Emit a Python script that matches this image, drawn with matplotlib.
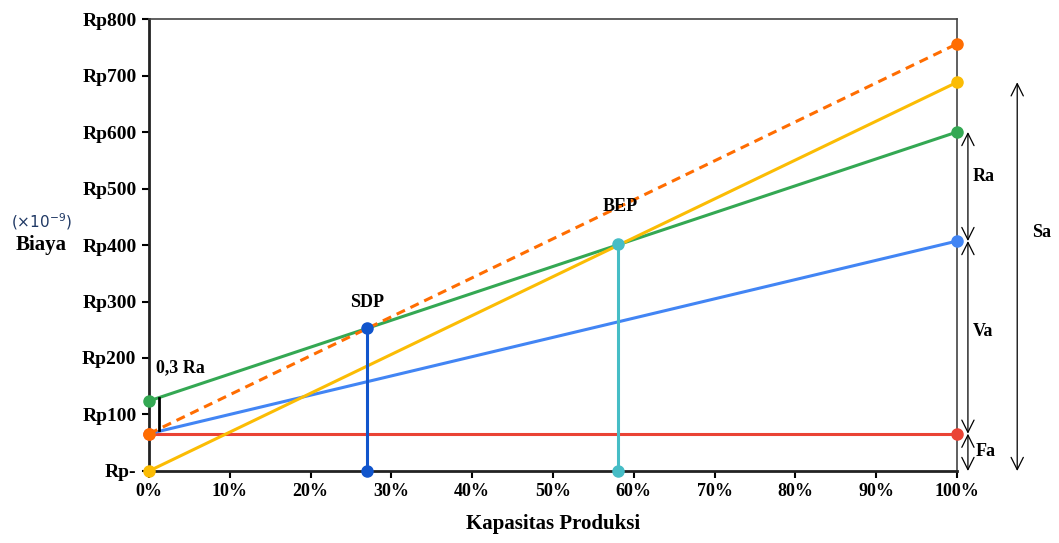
import matplotlib.pyplot as plt
import numpy as np

# data (biaya in Rp, x in fraction of capacity)
kapasitas = np.array([0.0, 1.0])
biaya_tetap = np.array([66, 66])          # Fa
biaya_variabel = np.array([66, 407])      # Fa + Va
biaya_total = np.array([124, 600])        # Fa + 0.3Ra + ...
penjualan = np.array([0, 688])            # Sa
biaya_putus = np.array([66, 756])         # dashed
sdp = (0.27, 253)
bep = (0.58, 401)
ra03_x = 0.012
yticks = np.arange(0, 801, 100)
ylabels = ["Rp-"] + ["Rp%d" % v for v in yticks[1:]]
xticks = np.arange(0, 1.01, 0.1)
xlabels = ["%d%%" % round(v * 100) for v in xticks]

plt.rcParams['font.family'] = ['Liberation Serif', 'DejaVu Serif']

fig = plt.figure(figsize=(10.59, 5.43), dpi=100)
ax = fig.add_axes([0.1407, 0.1326, 0.763, 0.8324])

lw = 2.2
ms = 8
ax.plot(kapasitas, biaya_tetap, color='#EA4335', lw=lw, marker='o', ms=ms, clip_on=False, zorder=3)
ax.plot(kapasitas, biaya_variabel, color='#4285F4', lw=lw, zorder=3)
ax.plot([1], [biaya_variabel[1]], color='#4285F4', marker='o', ms=ms, clip_on=False, zorder=4)
ax.plot(kapasitas, biaya_total, color='#34A853', lw=lw, marker='o', ms=ms, clip_on=False, zorder=3)
ax.plot(kapasitas, penjualan, color='#FBBC04', lw=lw, marker='o', ms=ms, clip_on=False, zorder=3)
ax.plot(kapasitas, biaya_putus, color='#FF6D01', lw=lw, ls=(0, (3, 2)), zorder=3)
ax.plot([0, 1], [biaya_putus[0], biaya_putus[1]], ls='none', color='#FF6D01', marker='o', ms=ms, clip_on=False, zorder=5)

# SDP and BEP drop lines
ax.plot([sdp[0], sdp[0]], [0, sdp[1]], color='#1155CC', lw=lw, marker='o', ms=ms, clip_on=False, zorder=4)
ax.plot([bep[0], bep[0]], [0, bep[1]], color='#46BDC6', lw=lw, marker='o', ms=ms, clip_on=False, zorder=4)
ax.text(sdp[0], sdp[1] + 30, "SDP", ha='center', va='bottom', fontsize=13, fontweight='bold')
ax.text(bep[0] + 0.003, bep[1] + 52, "BEP", ha='center', va='bottom', fontsize=13, fontweight='bold')

# 0,3 Ra marker
ax.plot([ra03_x, ra03_x], [72, 130], color='black', lw=2, zorder=4)
ax.text(0.009, 168, "0,3 Ra", ha='left', va='bottom', fontsize=13, fontweight='bold')

# arrows on the right
def dim_arrow(x, y0, y1, label, lx, ly):
    ax.annotate("", xy=(x, y0), xytext=(x, y1), xycoords='data',
                arrowprops=dict(arrowstyle='<->', color='black', lw=0.9,
                                mutation_scale=22, shrinkA=0, shrinkB=0),
                annotation_clip=False)
    ax.text(lx, ly, label, ha='left', va='center', fontsize=13, fontweight='bold')

dim_arrow(1.0135, biaya_total[1], biaya_variabel[1], "Ra", 1.0195, 522)
dim_arrow(1.0135, biaya_variabel[1], biaya_tetap[1], "Va", 1.0195, 247)
dim_arrow(1.0135, biaya_tetap[1], 0, "Fa", 1.023, 35)
dim_arrow(1.0745, penjualan[1], 0, "Sa", 1.093, 423)

ax.set_xlim(0, 1)
ax.set_ylim(0, 800)
ax.set_yticks(yticks)
ax.set_yticklabels(ylabels, fontsize=14, fontweight='bold')
ax.set_xticks(xticks)
ax.set_xticklabels(xlabels, fontsize=13, fontweight='bold')
ax.tick_params(axis='both', direction='out', length=5, width=1.5, pad=4)

for s in ['left', 'bottom']:
    ax.spines[s].set_linewidth(2)
    ax.spines[s].set_color('#222222')
for s in ['top', 'right']:
    ax.spines[s].set_linewidth(1.2)
    ax.spines[s].set_color('#444444')

ax.set_xlabel("Kapasitas Produksi", fontsize=15, fontweight='bold', labelpad=10)
fig.text(0.039, 0.592, r"$(\times 10^{-9})$", ha='center', va='center', fontsize=11, color='#1F3864')
fig.text(0.039, 0.548, "Biaya", ha='center', va='center', fontsize=15, fontweight='bold')

fig.savefig("out.png", dpi=100)
